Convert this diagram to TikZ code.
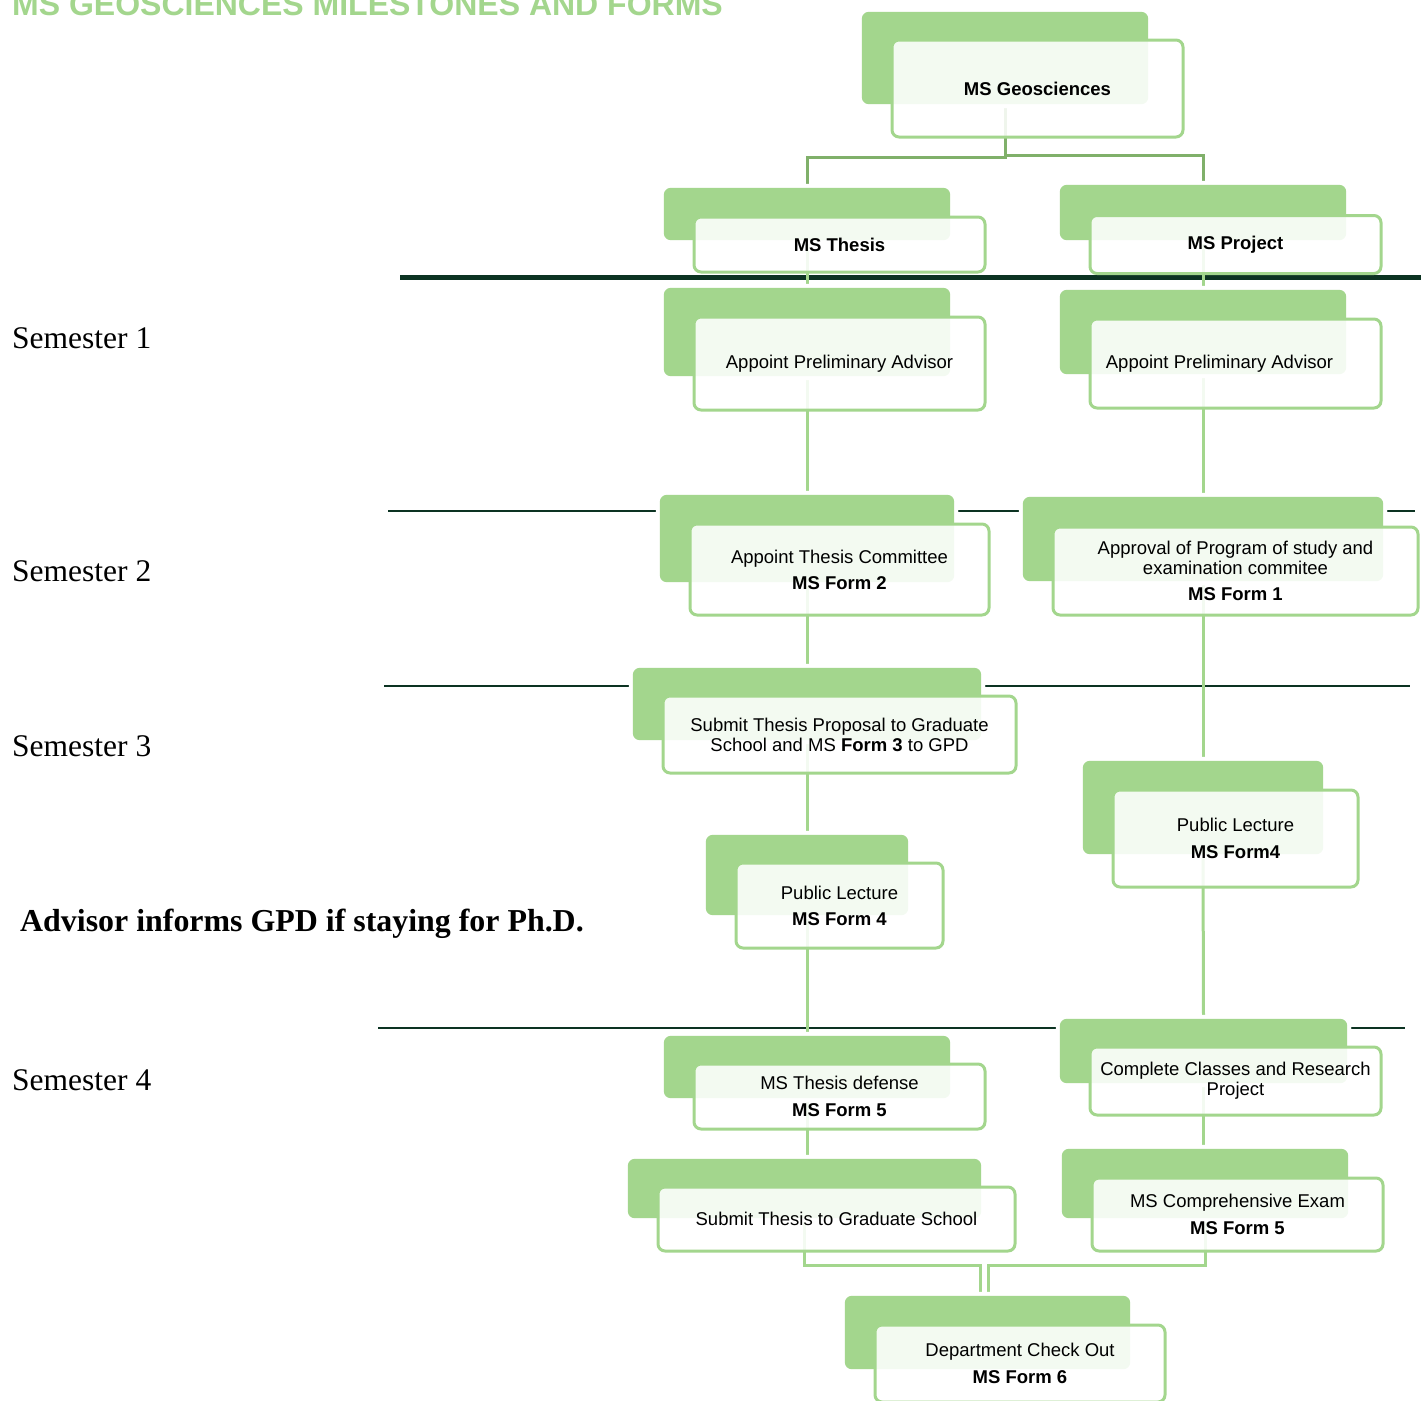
\documentclass[tikz,border=0pt]{standalone}
\usepackage{fontspec}
\setmainfont{Liberation Serif}
\newfontfamily\boxfont{Liberation Sans}
\usetikzlibrary{calc}

\definecolor{msgreen}{HTML}{A3D68D}
\definecolor{topgreen}{HTML}{80B06A}
\definecolor{rulegreen}{HTML}{0C3322}

\tikzset{
  backbox/.style={rectangle, rounded corners=7pt, fill=msgreen, inner sep=0pt,
    preaction={draw=white, line width=8pt}},
  frontbox/.style={rectangle, rounded corners=7pt, draw=msgreen, line width=3pt,
    fill=white, fill opacity=0.88, text opacity=1, inner sep=0pt, align=center,
    font=\boxfont\fontsize{18.5}{20}\selectfont},
  link/.style={draw=msgreen, line width=3pt},
  toplink/.style={draw=topgreen, line width=3pt},
  divider/.style={draw=rulegreen, line width=2pt},
  semester/.style={anchor=base west, inner sep=0pt, font=\fontsize{31.5}{34}\selectfont},
}

\begin{document}
\begin{tikzpicture}[x=1pt, y=-1pt]
  \useasboundingbox (0,0) rectangle (1421,1400);

  % title, cut by the top edge
  \node (title) [anchor=base west, inner sep=0pt, text=msgreen,
    font=\boxfont\bfseries\fontsize{32}{34}\selectfont] at (12,15)
    {MS GEOSCIENCES MILESTONES AND FORMS};

  % semester labels
  \node (sem1) [semester] at (12,348) {Semester 1};
  \node (sem2) [semester] at (12,581) {Semester 2};
  \node (sem3) [semester] at (12,756) {Semester 3};
  \node (phd) [semester, font=\bfseries\fontsize{31.9}{34}\selectfont] at (20,931)
    {Advisor informs GPD if staying for Ph.D.};
  \node (sem4) [semester] at (12,1090) {Semester 4};

  % dividers
  \draw [divider, line width=5pt] (400,277) -- (1421,277);
  \draw [divider] (388,511) -- (1415,511);
  \draw [divider] (384,686) -- (1410,686);
  \draw [divider] (378,1028) -- (1405,1028);

  % back boxes
  \node (geo-b)       [backbox, minimum width=286, minimum height=92] at (1005,58) {};
  \node (thesis-b)    [backbox, minimum width=286, minimum height=52] at (807,214) {};
  \node (project-b)   [backbox, minimum width=286, minimum height=55] at (1203,212.5) {};
  \node (lprelim-b)   [backbox, minimum width=286, minimum height=88] at (807,332) {};
  \node (rprelim-b)   [backbox, minimum width=286, minimum height=84] at (1203,332) {};
  \node (committee-b) [backbox, minimum width=294, minimum height=87] at (807,538.5) {};
  \node (approval-b)  [backbox, minimum width=360, minimum height=84] at (1203,539) {};
  \node (proposal-b)  [backbox, minimum width=348, minimum height=72] at (807,704) {};
  \node (rlecture-b)  [backbox, minimum width=240, minimum height=93] at (1203,807.5) {};
  \node (llecture-b)  [backbox, minimum width=202, minimum height=80] at (807,875) {};
  \node (defense-b)   [backbox, minimum width=286, minimum height=62] at (807,1067) {};
  \node (classes-b)   [backbox, minimum width=287, minimum height=64] at (1203.5,1051) {};
  \node (subgs-b)     [backbox, minimum width=353, minimum height=59] at (804.5,1188.5) {};
  \node (exam-b)      [backbox, minimum width=286, minimum height=69] at (1205,1183.5) {};
  \node (dept-b)      [backbox, minimum width=285, minimum height=73] at (987.5,1332.5) {};

  % connectors
  \draw [toplink] (geo-b.south) -- ++(0,53) -| (thesis-b.north);
  \draw [toplink] (geo-b.south) -- ++(0,51) -| (project-b.north);

  \draw [link] (thesis-b.south) -- (lprelim-b.north);
  \draw [link] (lprelim-b.south) -- (committee-b.north);
  \draw [link] (committee-b.south) -- (proposal-b.north);
  \draw [link] (proposal-b.south) -- (llecture-b.north);
  \draw [link] (llecture-b.south) -- (defense-b.north);
  \draw [link] (defense-b.south) -- (defense-b.south |- subgs-b.north);

  \draw [link] (project-b.south) -- (rprelim-b.north);
  \draw [link] (rprelim-b.south) -- (approval-b.north);
  \draw [link] (approval-b.south) -- (rlecture-b.north);
  \draw [link] (rlecture-b.south) -- (classes-b.north);
  \draw [link] (classes-b.south) -- (classes-b.south |- exam-b.north);

  \draw [link] (subgs-b.south) -- ++(0,47) -| ([xshift=-7pt]dept-b.north);
  \draw [link] (exam-b.south) -- ++(0,47) -| ([xshift=1pt]dept-b.north);

  % back boxes again on top of the connectors
  \foreach \b in {geo-b,thesis-b,project-b,lprelim-b,rprelim-b,committee-b,
      approval-b,proposal-b,rlecture-b,llecture-b,defense-b,classes-b,
      subgs-b,exam-b,dept-b}
    \path [backbox] (\b.south west) rectangle (\b.north east);

  % front boxes
  \node (geo)       [frontbox, minimum width=291, minimum height=97] at (1037.5,88.5)
    {\textbf{MS Geosciences}};
  \node (thesis)    [frontbox, minimum width=291, minimum height=55] at (839.5,244.5)
    {\textbf{MS Thesis}};
  \node (project)   [frontbox, minimum width=291, minimum height=58] at (1235.5,244.5)
    {\textbf{MS Project}};
  \node (lprelim)   [frontbox, minimum width=291, minimum height=93] at (839.5,363.5)
    {Appoint Preliminary Advisor};
  \node (rprelim)   [frontbox, minimum width=291, minimum height=89] at (1235.5,363.5)
    {Appoint Preliminary Advisor\hspace*{32pt}};
  \node (committee) [frontbox, minimum width=299, minimum height=91] at (839.5,569.5)
    {Appoint Thesis Committee\\[6pt]\textbf{MS Form 2}};
  \node (approval)  [frontbox, minimum width=365, minimum height=88] at (1235.5,571)
    {Approval of Program of study and\\examination commitee\\[6pt]\textbf{MS Form 1}};
  \node (proposal)  [frontbox, minimum width=353, minimum height=77] at (839.5,734.5)
    {Submit Thesis Proposal to Graduate\\School and MS \textbf{Form 3} to GPD};
  \node (rlecture)  [frontbox, minimum width=245, minimum height=97] at (1235.5,838.5)
    {Public Lecture\\[7pt]\textbf{MS Form4}};
  \node (llecture)  [frontbox, minimum width=207, minimum height=85] at (839.5,905.5)
    {Public Lecture\\[6pt]\textbf{MS Form 4}};
  \node (defense)   [frontbox, minimum width=291, minimum height=65] at (839.5,1096.5)
    {MS Thesis defense\\[7pt]\textbf{MS Form 5}};
  \node (classes)   [frontbox, minimum width=291, minimum height=68] at (1235.5,1081)
    {Complete Classes and Research\\Project};
  \node (subgs)     [frontbox, minimum width=357, minimum height=64] at (836.5,1219)
    {Submit Thesis to Graduate School};
  \node (exam)      [frontbox, minimum width=291, minimum height=73] at (1237.5,1214.5)
    {MS Comprehensive Exam\\[7pt]\textbf{MS Form 5}};
  \node (dept)      [frontbox, minimum width=290, minimum height=77] at (1020,1363.5)
    {Department Check Out\\[7pt]\textbf{MS Form 6}};
\end{tikzpicture}
\end{document}
